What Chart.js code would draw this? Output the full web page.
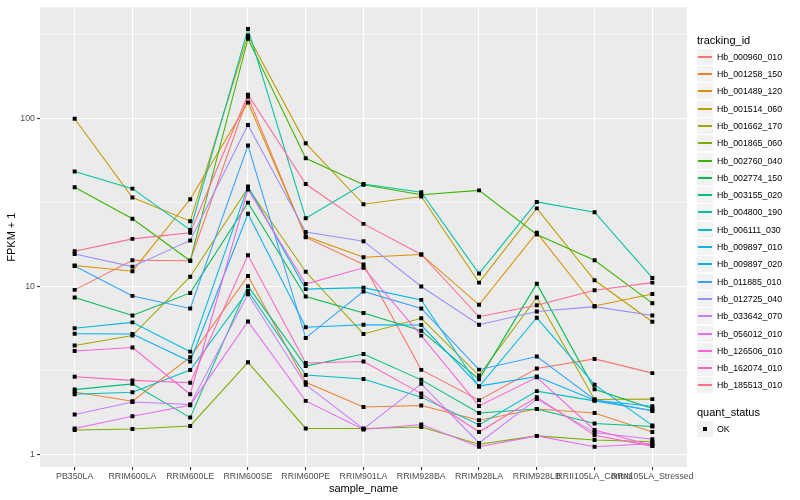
<!DOCTYPE html>
<html><head><meta charset="utf-8">
<script src="https://cdn.jsdelivr.net/npm/chart.js@4"></script>
<style>
html,body{margin:0;padding:0;background:#fff;}
#wrap{position:relative;width:800px;height:500px;font-family:"Liberation Sans",Arial,Helvetica,sans-serif;}
#c{position:absolute;left:0;top:0;}
.lg-title{position:absolute;left:697px;font-size:11px;color:#000;line-height:13px;white-space:nowrap;}
.lg-item{position:absolute;left:697px;height:16px;}
.lg-key{position:absolute;left:0;top:0;width:16px;height:16px;background:#F2F2F2;}
.lg-line{position:absolute;left:1px;top:7px;width:14px;height:2px;}
.lg-dot{position:absolute;left:6px;top:6px;width:4px;height:4px;background:#000;}
.lg-text{position:absolute;left:20px;top:0;line-height:16px;font-size:8.8px;color:#000;white-space:nowrap;}
</style></head>
<body>
<div id="wrap"><canvas id="c" width="800" height="500"></canvas><div id="legend"></div></div>
<script>
const categories = ["PB350LA","RRIM600LA","RRIM600LE","RRIM600SE","RRIM600PE","RRIM901LA","RRIM928BA","RRIM928LA","RRIM928LB","RRII105LA_Control","RRII105LA_Stressed"];

const hb_000960_010 = [9.6, 14.4, 14.3, 135, 19.7, 13.6, 3.21, 2.12, 3.27, 3.73, 3.07];
const hb_001258_150 = [2.37, 2.09, 3.82, 11.6, 2.71, 1.93, 1.97, 1.61, 1.88, 1.78, 1.37];
const hb_001489_120 = [13.4, 12.4, 33.2, 125, 20.0, 15.0, 15.6, 7.82, 21.0, 7.7, 9.07];
const hb_001514_060 = [100, 34, 24.6, 313, 71.4, 31.0, 34.5, 10.6, 29.3, 10.95, 6.2];
const hb_001662_170 = [4.48, 5.13, 11.5, 38.7, 12.3, 5.25, 6.5, 2.97, 8.65, 2.14, 2.15];
const hb_001865_060 = [1.41, 1.43, 1.49, 3.56, 1.44, 1.44, 1.47, 1.16, 1.30, 1.23, 1.20];
const hb_002760_040 = [39.1, 25.4, 14.3, 299, 58.2, 40.5, 35.3, 37.5, 20.5, 14.4, 8.0];
const hb_002774_150 = [8.65, 6.76, 9.21, 31.7, 8.77, 7.0, 5.49, 2.82, 10.45, 2.46, 1.89];
const hb_003155_020 = [2.45, 2.65, 1.67, 10.1, 3.38, 3.99, 2.80, 1.78, 1.88, 1.54, 1.48];
const hb_004800_190 = [48.6, 38.4, 21.8, 342, 25.6, 40.9, 36.6, 12.0, 32.0, 27.8, 11.3];
const hb_006111_030 = [2.30, 2.36, 3.20, 9.45, 2.99, 2.83, 2.21, 1.51, 2.40, 2.10, 1.84];
const hb_009897_010 = [5.67, 6.15, 4.12, 39.6, 9.7, 9.9, 8.37, 2.55, 6.55, 2.62, 1.50];
const hb_009897_020 = [5.27, 5.25, 3.60, 27.2, 5.75, 5.96, 5.93, 2.57, 2.93, 2.12, 1.95];
const hb_011885_010 = [13.3, 8.84, 7.44, 69.3, 4.97, 9.4, 7.44, 3.22, 3.85, 2.14, 1.83];
const hb_012725_040 = [15.7, 13.2, 18.9, 91.8, 21.2, 18.7, 10.05, 5.96, 7.14, 7.63, 6.76];
const hb_033642_070 = [1.74, 2.07, 2.00, 9.04, 2.62, 1.43, 2.65, 1.18, 2.15, 1.36, 1.24];
const hb_056012_010 = [1.44, 1.70, 1.98, 6.23, 2.10, 1.42, 1.52, 1.12, 1.30, 1.12, 1.17];
const hb_126506_010 = [4.16, 4.36, 2.30, 37.9, 10.4, 13.0, 5.13, 1.96, 2.90, 1.41, 1.14];
const hb_162074_010 = [2.92, 2.78, 2.69, 15.4, 3.53, 3.60, 2.32, 1.37, 2.21, 1.31, 1.13];
const hb_185513_010 = [16.3, 19.3, 21.0, 139, 40.9, 23.7, 15.6, 6.64, 7.77, 9.54, 10.6];

const seriesNames = ["Hb_000960_010","Hb_001258_150","Hb_001489_120","Hb_001514_060","Hb_001662_170","Hb_001865_060","Hb_002760_040","Hb_002774_150","Hb_003155_020","Hb_004800_190","Hb_006111_030","Hb_009897_010","Hb_009897_020","Hb_011885_010","Hb_012725_040","Hb_033642_070","Hb_056012_010","Hb_126506_010","Hb_162074_010","Hb_185513_010"];
const seriesValues = [hb_000960_010,hb_001258_150,hb_001489_120,hb_001514_060,hb_001662_170,hb_001865_060,hb_002760_040,hb_002774_150,hb_003155_020,hb_004800_190,hb_006111_030,hb_009897_010,hb_009897_020,hb_011885_010,hb_012725_040,hb_033642_070,hb_056012_010,hb_126506_010,hb_162074_010,hb_185513_010];
const seriesColors = ["#F8766D","#EA8331","#D89000","#C09B00","#A3A500","#7CAE00","#39B600","#00BB4E","#00BF7D","#00C1A3","#00BFC4","#00BAE0","#00B0F6","#35A2FF","#9590FF","#C77CFF","#E76BF3","#FA62DB","#FF62BC","#FF6C91"];
const yTickValues = [1, 3.1623, 10, 31.623, 100, 316.23];
const yTickLabels = {1:"1", 10:"10", 100:"100"};
const statusLabels = ["OK"];

const FONT = '"Liberation Sans", Arial, Helvetica, sans-serif';
const isMajorY = v => yTickLabels[v] !== undefined;

const panelBg = {
  id: 'panelBg',
  beforeDraw(chart) {
    const {ctx, chartArea: a} = chart;
    ctx.save();
    ctx.fillStyle = '#EBEBEB';
    ctx.fillRect(a.left, a.top, a.right - a.left, a.bottom - a.top);
    ctx.restore();
  }
};

const lineSets = seriesNames.map((n, i) => ({
  label: n,
  data: categories.map((c, j) => ({x: j, y: seriesValues[i][j]})),
  borderColor: seriesColors[i],
  backgroundColor: seriesColors[i],
  borderWidth: 1.05,
  pointRadius: 0,
  tension: 0,
  fill: false,
  order: 100 - i
}));
const pointSets = seriesNames.map((n, i) => ({
  label: n + ' OK',
  data: categories.map((c, j) => ({x: j, y: seriesValues[i][j]})),
  showLine: false,
  pointStyle: 'rect',
  pointRadius: 2.8,
  pointBorderWidth: 0,
  pointBackgroundColor: '#000',
  pointBorderColor: '#000',
  order: 0
}));

new Chart(document.getElementById('c'), {
  type: 'line',
  data: { datasets: lineSets.concat(pointSets) },
  plugins: [panelBg],
  options: {
    responsive: false,
    animation: false,
    layout: { padding: { left: 0, right: 113, top: 5, bottom: 0 } },
    plugins: { legend: { display: false }, tooltip: { enabled: false } },
    scales: {
      x: {
        type: 'linear',
        min: -0.6, max: 10.6,
        afterBuildTicks: s => { s.ticks = categories.map((c, i) => ({value: i})); },
        afterFit: s => { s.height = 33; },
        ticks: {
          callback: v => categories[v] ?? '',
          autoSkip: false, maxRotation: 0, minRotation: 0,
          font: { family: FONT, size: 8.8 }, color: '#4D4D4D', padding: 1.5
        },
        grid: { color: '#FFFFFF', lineWidth: 1.1, tickColor: '#333333', tickLength: 3, drawTicks: true },
        border: { display: false },
        title: { display: true, text: 'sample_name', color: '#000', font: { family: FONT, size: 11 }, padding: { top: 0, bottom: 4 } }
      },
      y: {
        type: 'logarithmic',
        min: 0.849, max: 460,
        afterBuildTicks: s => { s.ticks = yTickValues.map(v => ({value: v})); },
        afterFit: s => { s.width = 40; },
        ticks: {
          callback: v => yTickLabels[v] ?? '',
          autoSkip: false,
          font: { family: FONT, size: 8.8 }, color: '#4D4D4D', padding: 2
        },
        grid: {
          color: '#FFFFFF',
          lineWidth: ctx => isMajorY(ctx.tick && ctx.tick.value) ? 1.1 : 0.55,
          tickColor: ctx => isMajorY(ctx.tick && ctx.tick.value) ? '#333333' : 'rgba(0,0,0,0)',
          tickLength: 3, drawTicks: true
        },
        border: { display: false },
        title: { display: true, text: 'FPKM + 1', color: '#000', font: { family: FONT, size: 11 }, padding: { top: 5, bottom: 0 } }
      }
    }
  }
});

// legend (HTML text)
const lg = document.getElementById('legend');
function addTitle(text, cy) {
  const d = document.createElement('div');
  d.className = 'lg-title'; d.textContent = text; d.style.top = Math.round(cy - 6.5) + 'px';
  lg.appendChild(d);
}
function addItem(text, cy, color, isDot) {
  const it = document.createElement('div');
  it.className = 'lg-item'; it.style.top = Math.round(cy - 8) + 'px';
  const k = document.createElement('div'); k.className = 'lg-key';
  const m = document.createElement('div');
  if (isDot) { m.className = 'lg-dot'; } else { m.className = 'lg-line'; m.style.background = color; }
  k.appendChild(m); it.appendChild(k);
  const t = document.createElement('div'); t.className = 'lg-text'; t.textContent = text;
  it.appendChild(t);
  lg.appendChild(it);
}
addTitle('tracking_id', 40.5);
seriesNames.forEach((n, i) => addItem(n, 56.7 + 17.3 * i, seriesColors[i], false));
addTitle('quant_status', 412.7);
statusLabels.forEach((n, i) => addItem(n, 429.3 + 17.3 * i, '#000', true));
</script>
</body></html>
